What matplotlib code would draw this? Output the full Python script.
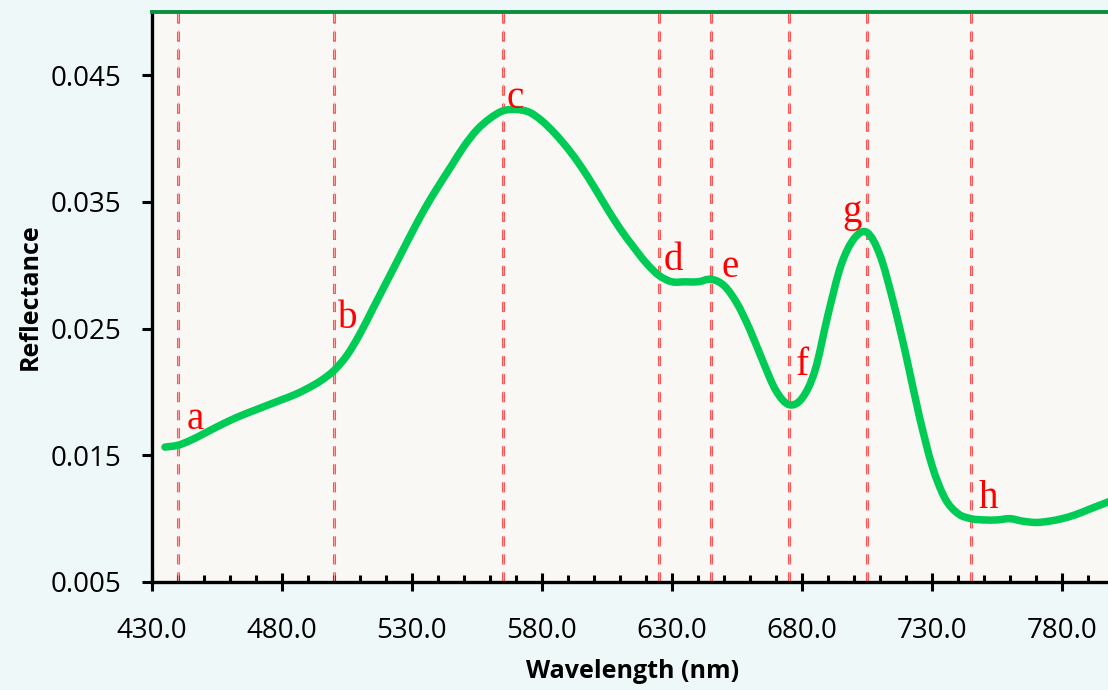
import matplotlib
matplotlib.use("Agg")
import matplotlib.pyplot as plt
from matplotlib.path import Path
from matplotlib.patches import PathPatch
from matplotlib.ticker import MultipleLocator, FormatStrFormatter

# ---- data ----
wavelength = [435, 440, 445, 450, 455, 460, 465, 470, 475, 480, 485, 490, 495,
              500, 505, 510, 515, 520, 525, 530, 535, 540, 545, 550, 555, 560,
              565, 570, 575, 580, 585, 590, 595, 600, 605, 610, 615, 620, 625,
              630, 635, 640, 645, 650, 655, 660, 665, 670, 675, 680, 685, 690,
              695, 700, 705, 710, 715, 720, 725, 730, 735, 740, 745, 750, 755,
              760, 765, 770, 775, 780, 785, 790, 795, 800]
reflectance = [0.01565, 0.0158, 0.0162, 0.01672, 0.01725, 0.01775, 0.0182, 0.0186,
               0.0190, 0.0194, 0.0198, 0.0203, 0.0209, 0.0217, 0.0229, 0.0246,
               0.0266, 0.0286, 0.0306, 0.0326, 0.0345, 0.0362, 0.0378, 0.0394,
               0.0407, 0.0416, 0.0422, 0.0423, 0.0421, 0.0414, 0.0404, 0.0392,
               0.0378, 0.0362, 0.0345, 0.0329, 0.0315, 0.0302, 0.0292, 0.0287,
               0.0287, 0.0287, 0.0289, 0.0284, 0.0270, 0.0249, 0.0224, 0.0201,
               0.0190, 0.0195, 0.0217, 0.0261, 0.0300, 0.0321, 0.0326, 0.0308,
               0.0272, 0.0229, 0.0182, 0.0142, 0.0116, 0.0104, 0.0100, 0.0099,
               0.0099, 0.0100, 0.0098, 0.0097, 0.0098, 0.0100, 0.0103, 0.0107,
               0.0111, 0.0115]

marker_labels = ["a", "b", "c", "d", "e", "f", "g", "h"]
marker_x = [440, 500, 565, 625, 645, 675, 705, 745]
label_x = [446.5, 505.4, 569.6, 630.4, 652.3, 680.0, 699.2, 751.5]
label_y = [0.0178, 0.0258, 0.0432, 0.0304, 0.0298, 0.0221, 0.0342, 0.0116]

x_ticks = [430, 480, 530, 580, 630, 680, 730, 780]
y_ticks = [0.005, 0.015, 0.025, 0.035, 0.045]


def smooth_path(xs, ys, t=1 / 6):
    """Excel-like smoothed line: cubic Bezier segments through every point."""
    verts = [(xs[0], ys[0])]
    codes = [Path.MOVETO]
    n = len(xs)
    for i in range(n - 1):
        x0, y0 = (xs[i - 1], ys[i - 1]) if i > 0 else (xs[i], ys[i])
        x1, y1 = xs[i], ys[i]
        x2, y2 = xs[i + 1], ys[i + 1]
        x3, y3 = (xs[i + 2], ys[i + 2]) if i + 2 < n else (x2, y2)
        c1 = (x1 + (x2 - x0) * t, y1 + (y2 - y0) * t)
        c2 = (x2 - (x3 - x1) * t, y2 - (y3 - y1) * t)
        verts += [c1, c2, (x2, y2)]
        codes += [Path.CURVE4] * 3
    return Path(verts, codes)


# ---- figure ----
fig = plt.figure(figsize=(11.08, 6.90), dpi=100)
fig.patch.set_facecolor("#EEF8F8")
ax = fig.add_axes([152 / 1108, 1 - 582 / 690, (1114 - 152) / 1108, (582 - 12) / 690])
ax.set_facecolor("#F9F8F5")

for xv in marker_x:
    ax.axvline(xv, color="#FF2020", lw=2.2, alpha=0.75, dashes=(3.3, 2.6), zorder=2)
    ax.axvline(xv, color="#FFB0B0", lw=0.7, alpha=0.9, dashes=(10.4, 8.2), zorder=2)

curve = PathPatch(smooth_path(wavelength, reflectance), facecolor="none",
                  edgecolor="#00CC55", lw=5.4, capstyle="round", joinstyle="round",
                  zorder=3)
ax.add_patch(curve)

for lab, lx, ly in zip(marker_labels, label_x, label_y):
    ax.text(lx, ly, lab, color="red", fontsize=28, family="Liberation Serif",
            ha="center", va="center", zorder=4)

ax.set_xlim(430, 800)
ax.set_ylim(0.005, 0.05)
ax.set_xticks(x_ticks)
ax.set_yticks(y_ticks)
ax.xaxis.set_minor_locator(MultipleLocator(10))
ax.xaxis.set_major_formatter(FormatStrFormatter("%.1f"))
ax.yaxis.set_major_formatter(FormatStrFormatter("%.3f"))

for s in ["left", "bottom"]:
    ax.spines[s].set_color("black")
    ax.spines[s].set_linewidth(2.4)
ax.spines["top"].set_color("#0A8F3C")
ax.spines["top"].set_linewidth(2.8)
ax.spines["right"].set_visible(False)

ax.tick_params(axis="x", which="major", direction="inout", length=13, width=2.2,
               labelsize=20, pad=19, colors="black")
ax.tick_params(axis="x", which="minor", direction="in", length=5, width=2.2)
ax.tick_params(axis="y", which="major", direction="out", length=7, width=2.2,
               labelsize=20, pad=15)
for t in ax.get_xticklabels() + ax.get_yticklabels():
    t.set_family("Open Sans")

ax.set_xlabel("Wavelength (nm)", fontsize=18, fontweight="bold", family="Open Sans")
ax.set_ylabel("Reflectance", fontsize=18, fontweight="bold", family="Open Sans")
ax.xaxis.label.set_va("center")
ax.yaxis.label.set_va("center")
ax.xaxis.set_label_coords(0.5, -(672 - 582) / 570)
ax.yaxis.set_label_coords(-(152 - 30) / 962, 0.5)

fig.savefig("out.png", dpi=100, facecolor=fig.get_facecolor())
